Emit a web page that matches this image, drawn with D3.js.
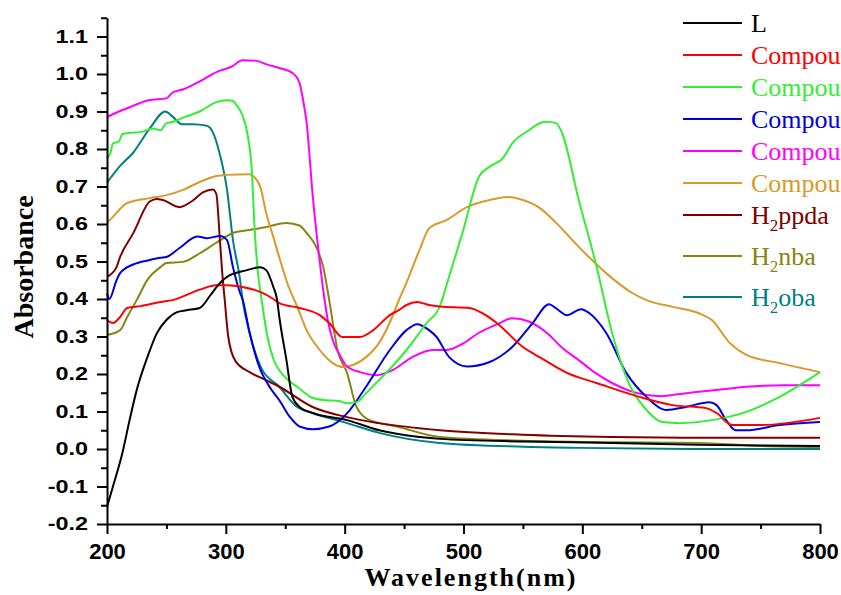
<!DOCTYPE html>
<html lang="en">
<head>
  <meta charset="UTF-8">
  <title>UV-Vis absorbance spectra</title>
  <script src="https://d3js.org/d3.v7.min.js"></script>
  <style>
    body { margin: 0; background: #fff; }
    svg { display: block; }
    .axis path, .axis line { stroke: #000; stroke-width: 2px; }
    .xlab text { font-family: "Liberation Sans", Arial, sans-serif; font-weight: bold; font-size: 22px; fill: #000; }
    .ylab text { font-family: "Liberation Sans", Arial, sans-serif; font-weight: bold; font-size: 18px; fill: #000; }
    .title { font-family: "Liberation Serif", "Times New Roman", serif; font-weight: bold; fill: #000; }
    .legend text { font-family: "Liberation Serif", "Times New Roman", serif; font-size: 26px; }
    .curve { fill: none; stroke-width: 2px; stroke-linejoin: round; }
  </style>
</head>
<body>
  <svg id="chart" width="841" height="595"></svg>

  <script>
    // series names and colours (legend order)
    const seriesNames = ["L", "Compound 1", "Compound 2", "Compound 3", "Compound 4", "Compound 5", "H2ppda", "H2nba", "H2oba"];
    const seriesColors = ["#000000", "#ff0000", "#33ee33", "#0000dd", "#ff00ff", "#d99a2b", "#800000", "#858510", "#008080"];

    // axis ticks
    const xTicks = [200, 300, 400, 500, 600, 700, 800];
    const yTicks = [-0.2, -0.1, 0.0, 0.1, 0.2, 0.3, 0.4, 0.5, 0.6, 0.7, 0.8, 0.9, 1.0, 1.1];

    // spectra: [wavelength nm, absorbance]
    const specL = [[200,-0.155],[205,-0.10],[213,-0.01],[219,0.077],[225,0.157],[234,0.245],[242,0.309],[250,0.344],[259,0.365],[267,0.37],[278,0.376],[287,0.41],[293,0.435],[301,0.459],[318,0.477],[329,0.485],[334,0.477],[340,0.432],[343,0.40],[345,0.352],[351,0.237],[356,0.139],[362,0.112],[373,0.096],[402,0.077],[429,0.05],[463,0.032],[480,0.027],[550,0.02],[625,0.016],[698,0.011],[800,0.008]];
    const specC1 = [[200,0.344],[205,0.336],[211,0.352],[217,0.376],[228,0.381],[245,0.392],[255,0.397],[278,0.425],[292,0.437],[301,0.437],[314,0.432],[329,0.419],[340,0.40],[345,0.389],[362,0.376],[379,0.357],[387,0.336],[398,0.299],[413,0.299],[424,0.317],[438,0.357],[446,0.371],[452,0.384],[461,0.392],[471,0.384],[480,0.38],[505,0.376],[516,0.362],[528,0.336],[550,0.272],[564,0.245],[587,0.203],[612,0.176],[648,0.139],[676,0.117],[704,0.109],[713,0.096],[726,0.064],[751,0.064],[800,0.083]];
    const specC2 = [[200,0.775],[203,0.79],[205,0.815],[210,0.82],[213,0.84],[220,0.843],[228,0.845],[239,0.855],[245,0.85],[250,0.869],[255,0.872],[265,0.885],[278,0.90],[292,0.925],[301,0.93],[306,0.928],[309,0.917],[314,0.89],[318,0.843],[322,0.735],[324,0.60],[327,0.47],[330,0.40],[335,0.30],[340,0.24],[345,0.21],[352,0.185],[360,0.166],[373,0.136],[385,0.13],[395,0.128],[402,0.122],[410,0.125],[418,0.149],[429,0.184],[440,0.22],[452,0.264],[469,0.336],[480,0.38],[486,0.44],[499,0.575],[513,0.726],[522,0.753],[533,0.775],[541,0.815],[555,0.85],[565,0.87],[570,0.873],[578,0.869],[583,0.842],[597,0.664],[612,0.486],[625,0.31],[639,0.176],[654,0.104],[667,0.072],[682,0.069],[709,0.077],[738,0.099],[766,0.139],[800,0.205]];
    const specC3 = [[200,0.415],[202,0.40],[208,0.45],[211,0.469],[222,0.492],[236,0.504],[245,0.51],[250,0.512],[261,0.536],[276,0.567],[284,0.562],[295,0.568],[301,0.557],[306,0.485],[312,0.416],[314,0.40],[320,0.31],[328,0.22],[338,0.16],[345,0.13],[354,0.085],[362,0.06],[373,0.053],[387,0.06],[402,0.095],[418,0.166],[438,0.264],[452,0.317],[461,0.333],[471,0.317],[477,0.30],[488,0.245],[503,0.22],[522,0.232],[541,0.272],[558,0.335],[572,0.386],[578,0.375],[587,0.357],[599,0.373],[606,0.362],[620,0.31],[637,0.203],[654,0.139],[671,0.104],[687,0.112],[707,0.125],[713,0.117],[721,0.077],[729,0.05],[738,0.05],[766,0.064],[800,0.072]];
    const specC4 = [[200,0.885],[210,0.90],[222,0.915],[235,0.93],[250,0.935],[255,0.95],[265,0.96],[278,0.98],[292,1.005],[305,1.02],[314,1.037],[326,1.035],[335,1.025],[345,1.016],[356,1.003],[362,0.976],[365,0.93],[368,0.87],[373,0.68],[379,0.50],[383,0.40],[386,0.34],[390,0.29],[396,0.25],[402,0.22],[413,0.205],[427,0.197],[440,0.21],[457,0.245],[474,0.264],[486,0.264],[499,0.28],[513,0.31],[530,0.335],[541,0.349],[555,0.34],[570,0.31],[583,0.27],[597,0.237],[610,0.205],[625,0.176],[640,0.155],[654,0.144],[667,0.141],[680,0.146],[696,0.152],[720,0.16],[738,0.166],[770,0.17],[800,0.17]];
    const specC5 = [[200,0.603],[205,0.619],[217,0.656],[236,0.669],[250,0.677],[264,0.691],[278,0.712],[292,0.728],[301,0.731],[320,0.733],[324,0.725],[329,0.699],[334,0.629],[340,0.565],[346,0.50],[352,0.44],[360,0.38],[368,0.317],[379,0.264],[390,0.229],[398,0.219],[407,0.224],[418,0.245],[429,0.283],[440,0.352],[446,0.40],[452,0.443],[463,0.531],[471,0.588],[486,0.611],[503,0.645],[522,0.664],[537,0.672],[550,0.664],[564,0.643],[578,0.603],[597,0.539],[620,0.469],[642,0.416],[654,0.397],[676,0.379],[698,0.362],[709,0.344],[724,0.283],[738,0.251],[766,0.229],[800,0.205]];
    const specPpda = [[200,0.459],[208,0.485],[211,0.512],[222,0.575],[236,0.66],[242,0.667],[247,0.664],[261,0.645],[272,0.662],[281,0.685],[289,0.692],[292,0.68],[295,0.557],[297,0.469],[299,0.40],[302,0.30],[308,0.235],[320,0.205],[333,0.185],[345,0.166],[373,0.112],[402,0.085],[429,0.069],[480,0.05],[550,0.038],[625,0.032],[700,0.03],[800,0.03]];
    const specNba = [[200,0.304],[211,0.317],[217,0.352],[225,0.397],[234,0.451],[245,0.485],[250,0.496],[264,0.499],[278,0.522],[292,0.55],[306,0.576],[320,0.584],[334,0.592],[351,0.603],[362,0.596],[368,0.576],[376,0.539],[382,0.485],[387,0.397],[394,0.264],[402,0.203],[410,0.112],[421,0.077],[444,0.06],[480,0.032],[550,0.022],[625,0.018],[698,0.016],[750,0.008],[800,0.005]];
    const specOba = [[200,0.71],[211,0.755],[222,0.79],[236,0.855],[249,0.9],[255,0.887],[263,0.866],[272,0.866],[284,0.862],[289,0.845],[295,0.785],[301,0.691],[306,0.557],[312,0.451],[314,0.40],[320,0.31],[330,0.215],[345,0.166],[360,0.112],[373,0.096],[402,0.069],[429,0.043],[480,0.016],[550,0.006],[597,0.003],[700,0.0],[800,0.0]];

    const allSpectra = [specL, specC1, specC2, specC3, specC4, specC5, specPpda, specNba, specOba];

    const svg = d3.select("#chart");

    // plot area in pixels
    const x = d3.scaleLinear().domain([200, 800]).range([107, 820]);
    const y = d3.scaleLinear().domain([-0.2, 1.15]).range([524, 17.75]);

    // curves (drawn in reverse so L ends on top like the original)
    const line = d3.line()
      .x(d => x(d[0]))
      .y(d => y(d[1]))
      .curve(d3.curveMonotoneX);
    svg.append("g")
      .selectAll("path")
      .data(allSpectra.map((s, i) => ({ s, i })).reverse())
      .enter().append("path")
      .attr("class", "curve")
      .attr("stroke", d => seriesColors[d.i])
      .attr("d", d => line(d.s));

    // x axis: major + minor ticks
    const xMinor = d3.range(250, 800, 100);
    svg.append("g")
      .attr("class", "axis")
      .attr("transform", "translate(0,524)")
      .call(d3.axisBottom(x).tickValues(xMinor).tickSize(5).tickFormat(""))
      .select(".domain").remove();
    svg.append("g")
      .attr("class", "axis xlab")
      .attr("transform", "translate(0,524)")
      .call(d3.axisBottom(x).tickValues(xTicks).tickSize(10).tickSizeOuter(0).tickPadding(9).tickFormat(d3.format("d")));

    // y axis: major + minor ticks
    const yMinor = d3.range(-0.15, 1.16, 0.1);
    svg.append("g")
      .attr("class", "axis")
      .attr("transform", "translate(107,0)")
      .call(d3.axisLeft(y).tickValues(yMinor).tickSize(6).tickFormat(""))
      .select(".domain").remove();
    const gy = svg.append("g")
      .attr("class", "axis ylab")
      .attr("transform", "translate(107,0)")
      .call(d3.axisLeft(y).tickValues(yTicks).tickSize(10).tickSizeOuter(0).tickFormat(d => d.toFixed(1)));
    // tick labels in the picture are wide; stretch them sideways
    gy.selectAll(".tick text")
      .attr("x", 0)
      .attr("transform", "translate(-19,0) scale(1.3,1)");

    // axis titles
    svg.append("text")
      .attr("class", "title")
      .attr("x", 470).attr("y", 586)
      .attr("text-anchor", "middle")
      .attr("font-size", 26)
      .attr("textLength", 211)
      .text("Wavelength(nm)");

    svg.append("text")
      .attr("class", "title")
      .attr("transform", "translate(33,267) rotate(-90)")
      .attr("text-anchor", "middle")
      .attr("font-size", 28)
      .text("Absorbance");

    // legend (labels run off the right edge, as in the original)
    const legend = svg.append("g").attr("class", "legend");
    let rowY = 23;
    seriesNames.forEach((name, i) => {
      if (i > 0) rowY += 32 + (seriesNames[i - 1].startsWith("H2") ? 9 : 0);
      legend.append("line")
        .attr("x1", 683).attr("x2", 742)
        .attr("y1", rowY).attr("y2", rowY)
        .attr("stroke", seriesColors[i])
        .attr("stroke-width", 2);
      const t = legend.append("text")
        .attr("x", 751).attr("y", rowY + 9)
        .attr("fill", seriesColors[i]);
      if (name.startsWith("H2")) {
        t.append("tspan").text("H");
        t.append("tspan").attr("dy", 7).attr("font-size", 17).text("2");
        t.append("tspan").attr("dy", -7).text(name.slice(2));
      } else {
        t.text(name);
      }
    });
  </script>
</body>
</html>
